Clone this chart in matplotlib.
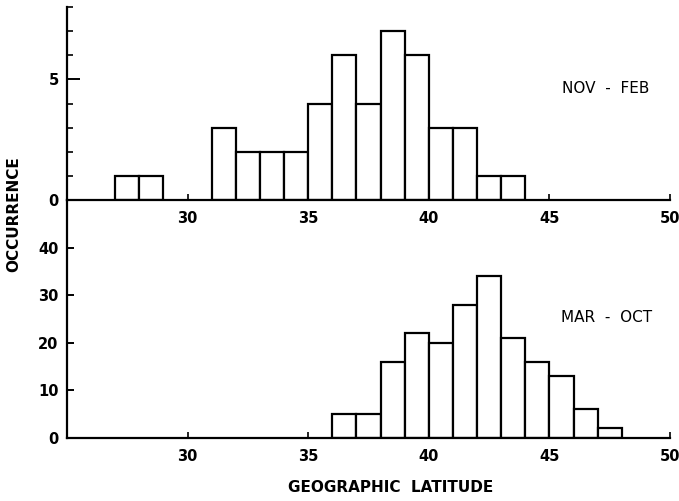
import matplotlib
matplotlib.use("Agg")
import matplotlib.pyplot as plt
import numpy as np

plt.rcParams['font.family'] = ['DejaVu Sans']

# Upper panel (NOV - FEB): bin left edges (deg latitude) and counts
nov_feb_lat = [27, 28, 31, 32, 33, 34, 35, 36, 37, 38, 39, 40, 41, 42, 43]
nov_feb_cnt = [1, 1, 3, 2, 2, 2, 4, 6, 4, 7, 6, 3, 3, 1, 1]

# Lower panel (MAR - OCT)
mar_oct_lat = [36, 37, 38, 39, 40, 41, 42, 43, 44, 45, 46, 47]
mar_oct_cnt = [5, 5, 16, 22, 20, 28, 34, 21, 16, 13, 6, 2]

x_ticks = [30, 35, 40, 45, 50]
top_yticks = [0, 5]
bot_yticks = [0, 10, 20, 30, 40]

W, H = 679, 501
fig = plt.figure(figsize=(W / 100, H / 100), dpi=100)

def fx(px):
    return px / W

def fy(py):
    return 1 - py / H

left, right = 67, 670
ax1 = fig.add_axes([fx(left), fy(200), fx(right - left), fy(7) - fy(200)])
ax2 = fig.add_axes([fx(left), fy(438), fx(right - left), fy(200) - fy(438)])

lw = 1.6
for ax, lat, cnt, ylim in [(ax1, nov_feb_lat, nov_feb_cnt, 8), (ax2, mar_oct_lat, mar_oct_cnt, 50)]:
    ax.bar(lat, cnt, width=1, align='edge', color='white', edgecolor='black', linewidth=lw, zorder=2)
    ax.set_xlim(25, 50)
    ax.set_ylim(0, ylim)
    for s in ['top', 'right']:
        ax.spines[s].set_visible(False)
    for s in ['left', 'bottom']:
        ax.spines[s].set_linewidth(lw)
        ax.spines[s].set_zorder(3)
    ax.set_xticks(x_ticks)
    ax.set_xticklabels([str(t) for t in x_ticks], fontsize=10.5, fontweight='bold')
    ax.tick_params(axis='x', direction='in', length=4, width=1.2, pad=8)
    ax.tick_params(axis='y', direction='in', length=5, width=1.4, pad=6)
    ax.patch.set_alpha(0)

ax1.set_yticks(top_yticks)
ax1.set_yticklabels([str(t) for t in top_yticks], fontsize=10.5, fontweight='bold')
ax1.set_yticks(list(range(0, 9)), minor=True)
ax1.tick_params(axis='y', which='minor', direction='in', length=4, width=1.2)
ax1.tick_params(axis='y', which='major', length=9)

ax2.set_yticks(bot_yticks)
ax2.set_yticklabels([str(t) for t in bot_yticks], fontsize=10.5, fontweight='bold')

ax1.text(0.894, 0.58, "NOV  -  FEB", transform=ax1.transAxes, ha='center', va='center', fontsize=11)
ax2.text(0.894, 0.508, "MAR  -  OCT", transform=ax2.transAxes, ha='center', va='center', fontsize=11)

fig.text(fx(14), fy(214), "OCCURRENCE", rotation=90, ha='center', va='center', fontsize=11, fontweight='bold')
fig.text(fx(391), fy(488), "GEOGRAPHIC  LATITUDE", ha='center', va='center', fontsize=11, fontweight='bold')

fig.savefig("out.png", dpi=100)
